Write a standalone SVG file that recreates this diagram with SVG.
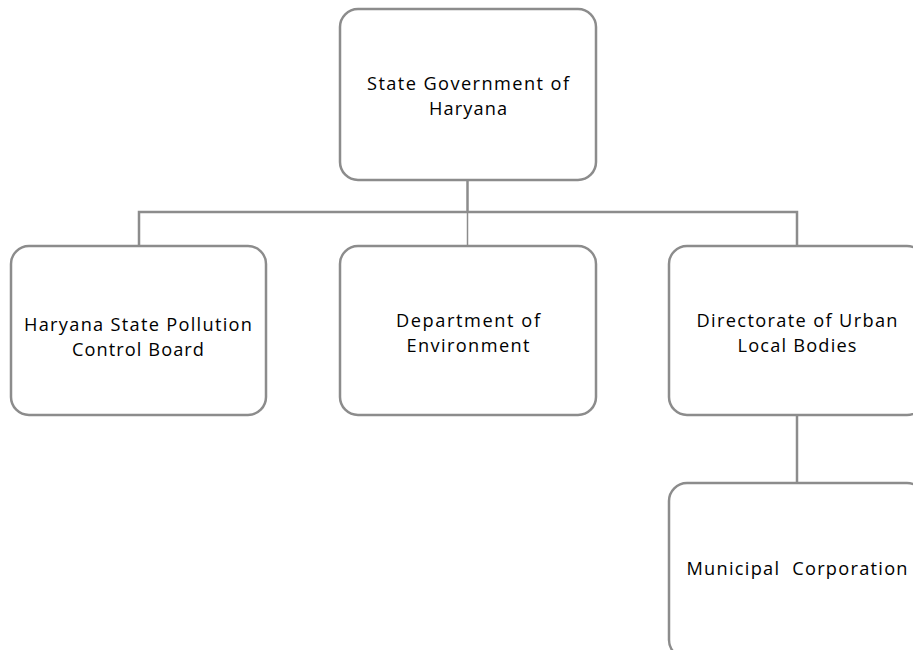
<svg xmlns="http://www.w3.org/2000/svg" width="913" height="650" viewBox="0 0 913 650">
<style>
.box{fill:#ffffff;stroke:#8c8c8c;stroke-width:2.5}
.conn{fill:none;stroke:#8c8c8c;stroke-width:2.5}
.thin{fill:none;stroke:#8c8c8c;stroke-width:1.5}
text{font-family:"Open Sans","Liberation Sans",sans-serif;font-size:18.2px;fill:#000000;text-anchor:middle}
</style>
<rect width="913" height="650" fill="#ffffff"/>
<g id="connectors">
<path class="conn" d="M467.5 180 V212"/>
<path class="conn" d="M139 246 V212 H797 V246"/>
<path class="thin" d="M467.5 212 V246"/>
<path class="conn" d="M797 415 V483"/>
</g>
<g id="state-government">
<rect class="box" x="340" y="9" width="256" height="171" rx="18"/>
<text x="468" y="89.5" textLength="202" lengthAdjust="spacing">State Government of</text>
<text x="468" y="115" textLength="78" lengthAdjust="spacing">Haryana</text>
</g>
<g id="hspcb">
<rect class="box" x="11" y="246" width="255" height="169" rx="18"/>
<text x="138" y="330.5" textLength="228" lengthAdjust="spacing">Haryana State Pollution</text>
<text x="138" y="356" textLength="132" lengthAdjust="spacing">Control Board</text>
</g>
<g id="environment">
<rect class="box" x="340" y="246" width="256" height="169" rx="18"/>
<text x="468" y="326.5" textLength="144" lengthAdjust="spacing">Department of</text>
<text x="468" y="352" textLength="123" lengthAdjust="spacing">Environment</text>
</g>
<g id="urban-local-bodies">
<rect class="box" x="669" y="246" width="256" height="169" rx="18"/>
<text x="797" y="326.5" textLength="201" lengthAdjust="spacing">Directorate of Urban</text>
<text x="797" y="352" textLength="119" lengthAdjust="spacing">Local Bodies</text>
</g>
<g id="municipal-corporation">
<rect class="box" x="669" y="483" width="256" height="175" rx="18"/>
<text x="797" y="575" textLength="221" lengthAdjust="spacing" xml:space="preserve">Municipal  Corporation</text>
</g>
</svg>
